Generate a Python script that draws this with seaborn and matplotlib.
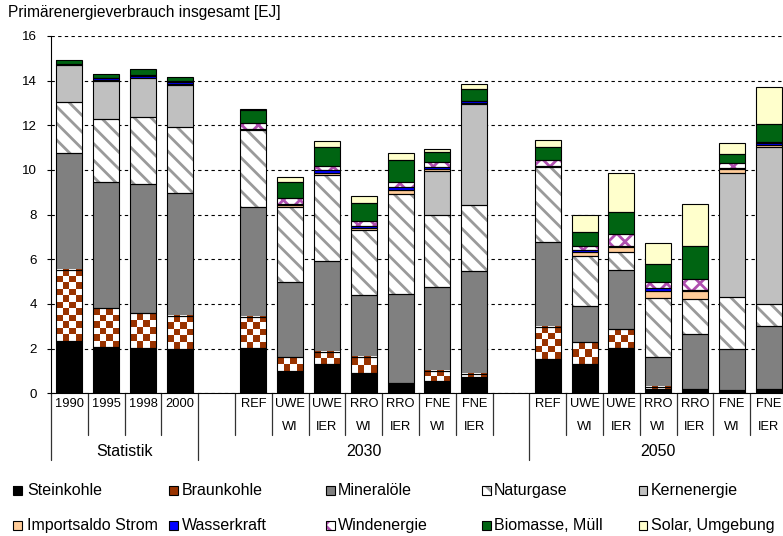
import numpy as np
import pandas as pd
import matplotlib
matplotlib.use("Agg")
import matplotlib.pyplot as plt
import matplotlib.transforms as mtransforms
from matplotlib.patches import Rectangle
from matplotlib.colors import to_rgb
import seaborn as sns

# ---------------- data ----------------
slot_keys = ["1990", "1995", "1998", "2000", "_gap1",
             "REF 2030", "UWE WI 2030", "UWE IER 2030", "RRO WI 2030", "RRO IER 2030",
             "FNE WI 2030", "FNE IER 2030", "_gap2",
             "REF 2050", "UWE WI 2050", "UWE IER 2050", "RRO WI 2050", "RRO IER 2050",
             "FNE WI 2050", "FNE IER 2050"]
top_labels = ["1990", "1995", "1998", "2000", "",
              "REF", "UWE", "UWE", "RRO", "RRO", "FNE", "FNE", "",
              "REF", "UWE", "UWE", "RRO", "RRO", "FNE", "FNE"]
bottom_labels = ["", "", "", "", "",
                 "", "WI", "IER", "WI", "IER", "WI", "IER", "",
                 "", "WI", "IER", "WI", "IER", "WI", "IER"]
group_names = ["Statistik", "2030", "2050"]
group_spans = [(-0.5, 3.5), (3.5, 12.5), (12.5, 19.5)]

bar_slots = [k for k in slot_keys if not k.startswith("_")]

series_names = ["Steinkohle", "Braunkohle", "Mineralöle", "Naturgase", "Kernenergie",
                "Importsaldo Strom", "Wasserkraft", "Windenergie", "Biomasse, Müll",
                "Solar, Umgebung"]
steinkohle = [2.34, 2.09, 2.04, 1.97, 2.03, 1.02, 1.32, 0.90, 0.45, 0.57, 0.72,
              1.54, 1.31, 2.03, 0.19, 0.19, 0.15, 0.19]
braunkohle = [3.18, 1.71, 1.54, 1.49, 1.40, 0.62, 0.55, 0.72, 0.00, 0.45, 0.15,
              1.45, 0.97, 0.85, 0.11, 0.00, 0.00, 0.00]
mineraloele = [5.23, 5.65, 5.78, 5.50, 4.90, 3.36, 4.07, 2.79, 4.00, 3.75, 4.62,
               3.77, 1.65, 2.64, 1.34, 2.47, 1.84, 2.84]
naturgase = [2.31, 2.83, 3.03, 2.98, 3.45, 3.33, 3.84, 2.91, 4.48, 3.22, 2.94,
             3.36, 2.23, 0.82, 2.61, 1.56, 2.31, 0.97]
kernenergie = [1.64, 1.71, 1.75, 1.87, 0.00, 0.00, 0.00, 0.00, 0.00, 1.98, 4.53,
               0.00, 0.00, 0.00, 0.00, 0.00, 5.55, 7.01]
importsaldo = [0.00, 0.05, 0.00, 0.03, 0.00, 0.10, 0.10, 0.10, 0.19, 0.08, 0.05,
               0.00, 0.18, 0.19, 0.34, 0.34, 0.19, 0.12]
wasserkraft = [0.06, 0.08, 0.07, 0.09, 0.07, 0.06, 0.10, 0.09, 0.10, 0.07, 0.07,
               0.07, 0.07, 0.07, 0.12, 0.07, 0.05, 0.06]
windenergie = [0.00, 0.02, 0.05, 0.04, 0.24, 0.27, 0.19, 0.22, 0.22, 0.25, 0.00,
               0.25, 0.20, 0.52, 0.28, 0.48, 0.21, 0.05]
biomasse = [0.17, 0.14, 0.25, 0.18, 0.60, 0.72, 0.85, 0.78, 1.00, 0.45, 0.55,
            0.57, 0.60, 1.01, 0.79, 1.49, 0.42, 0.84]
solar = [0.00, 0.00, 0.00, 0.00, 0.03, 0.22, 0.27, 0.34, 0.33, 0.13, 0.22,
         0.33, 0.78, 1.75, 0.93, 1.87, 0.49, 1.64]
series_values = [steinkohle, braunkohle, mineraloele, naturgase, kernenergie,
                 importsaldo, wasserkraft, windenergie, biomasse, solar]

# ---------------- styles ----------------
face_colors = ["#000000", "#993300", "#808080", "#ffffff", "#c0c0c0",
               "#ffcc99", "#0000ff", "#ffffff", "#006412", "#ffffcc"]
hatch_colors = [None, None, None, "#9a9a9a", None, None, None, "#b050b0", None, None]
hatches = [None, None, None, "\\\\", None, None, None, "xx", None, None]
checker = [False, True, False, False, False, False, False, False, False, False]

sns.set_theme(style="white")
plt.rcParams["font.family"] = ["Liberation Sans", "DejaVu Sans"]
plt.rcParams["hatch.linewidth"] = 2.0

W, H = 783, 536
fig = plt.figure(figsize=(W / 100, H / 100), dpi=100)
y0px, y16px = 393.3, 36.0
left_px, slot_px = 51.0, 36.8
ax = fig.add_axes([left_px / W, 1 - y0px / H, (W - left_px) / W, (y0px - y16px) / H])

bottoms = np.zeros(len(bar_slots))
all_patches = []
for name, vals, face, hcol, hatch, chk in zip(series_names, series_values, face_colors,
                                               hatch_colors, hatches, checker):
    vals = np.asarray(vals, dtype=float)
    mask = vals > 0
    df = pd.DataFrame({"slot": np.array(bar_slots)[mask], "value": vals[mask]})
    kw = dict(edgecolor=hcol if hatch else face, linewidth=0)
    if hatch:
        kw["hatch"] = hatch
    sns.barplot(data=df, x="slot", y="value", order=slot_keys, bottom=bottoms[mask],
                width=0.71, color=face, saturation=1, errorbar=None, ax=ax, **kw)
    patches = list(ax.containers[-1])
    if chk:
        brown = np.array(to_rgb(face))
        for p in patches:
            x0, yb = p.get_xy()
            w, h = p.get_width(), p.get_height()
            nr = max(1, int(round(h / 0.29)))
            nc = 4
            ii, jj = np.mgrid[0:nr, 0:nc]
            img = np.ones((nr, nc, 3))
            img[(ii + jj) % 2 == 1] = brown
            ax.imshow(img, extent=(x0, x0 + w, yb, yb + h), origin="lower",
                      aspect="auto", interpolation="nearest", zorder=1.5)
    all_patches.extend(patches)
    bottoms += vals

for p in all_patches:
    ax.add_patch(Rectangle(p.get_xy(), p.get_width(), p.get_height(), fill=False,
                           edgecolor="black", linewidth=0.8, zorder=3))

# ---------------- axes ----------------
ax.set_xlim(-0.5, -0.5 + (W - left_px) / slot_px)
ax.set_ylim(0, 16)
ax.set_xticks([])
ax.set_xlabel("")
ax.set_ylabel("")
ax.set_yticks(np.arange(0, 17, 2))
ax.set_yticklabels([str(v) for v in range(0, 17, 2)])
ax.tick_params(axis="y", left=True, direction="out", length=3, width=0.8, pad=7,
               labelsize=9.6, colors="black")
ax.yaxis.grid(True, color="black", linestyle=(0, (3, 3)), linewidth=0.8)
ax.xaxis.grid(False)
ax.set_axisbelow(True)
for s in ["top", "right"]:
    ax.spines[s].set_visible(False)
for s in ["left", "bottom"]:
    ax.spines[s].set_color("black")
    ax.spines[s].set_linewidth(0.8)

fig.text(8 / W, 1 - 13 / H, "Primärenergieverbrauch insgesamt [EJ]", ha="left",
         va="center", fontsize=11.2, color="black")

# hierarchical category axis
blend = mtransforms.blended_transform_factory(ax.transData, fig.transFigure)
fy = lambda px: 1 - px / H
long_bounds = {-0.5, 3.5, 12.5}
for k in range(len(slot_keys)):
    b = k - 0.5
    yend = 460 if b in long_bounds else 435
    ax.plot([b, b], [fy(y0px), fy(yend)], color="#333333", lw=0.9,
            transform=blend, clip_on=False)
for i, (t1, t2) in enumerate(zip(top_labels, bottom_labels)):
    if t1:
        ax.text(i, fy(404), t1, ha="center", va="center", fontsize=9.3,
                transform=blend, color="black")
    if t2:
        ax.text(i, fy(427), t2, ha="center", va="center", fontsize=9.3,
                transform=blend, color="black")
for gname, (a, b) in zip(group_names, group_spans):
    ax.text((a + b) / 2, fy(451), gname, ha="center", va="center", fontsize=11.5,
            transform=blend, color="black")

# legend (manual grid 2 x 5)
leg_marker_x = [13.3, 169.3, 326, 482, 638.5]
leg_text_x = [27, 182, 337.5, 494, 651]
leg_row_y = [490.7, 525.3]
msz = 8.7
for idx, name in enumerate(series_names):
    r, c = divmod(idx, 5)
    mx, yc = leg_marker_x[c], leg_row_y[r]
    rect_xy = (mx / W, 1 - (yc + msz / 2) / H)
    rw, rh = msz / W, msz / H
    if hatches[idx]:
        fig.add_artist(Rectangle(rect_xy, rw, rh, transform=fig.transFigure,
                                 facecolor=face_colors[idx], edgecolor=hatch_colors[idx],
                                 hatch=hatches[idx], linewidth=0))
    else:
        fig.add_artist(Rectangle(rect_xy, rw, rh, transform=fig.transFigure,
                                 facecolor=face_colors[idx], linewidth=0))
    fig.add_artist(Rectangle(rect_xy, rw, rh, transform=fig.transFigure,
                             fill=False, edgecolor="black", linewidth=0.8))
    fig.text(leg_text_x[c] / W, 1 - yc / H, name, ha="left", va="center",
             fontsize=11.5, color="black")

fig.savefig("out.png", dpi=100)
